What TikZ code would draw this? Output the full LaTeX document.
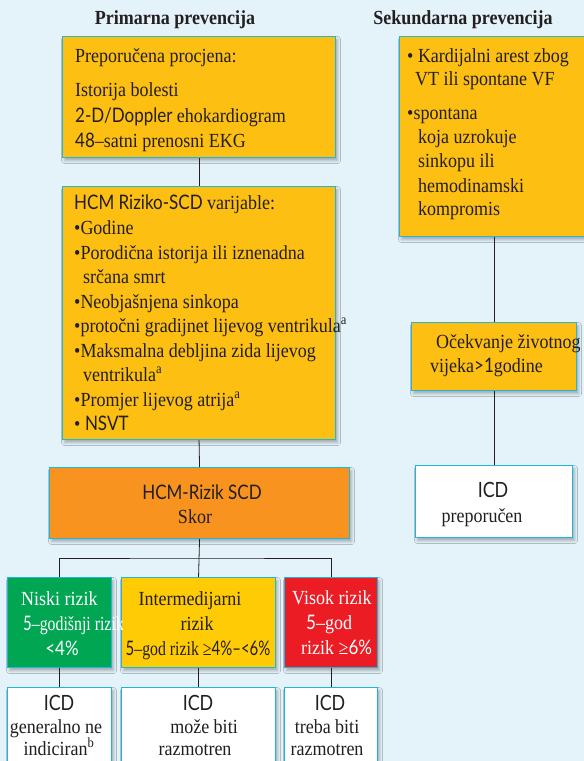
\documentclass[tikz,border=0pt]{standalone}
\usepackage{fontspec}
\setmainfont{Liberation Serif}[FakeStretch=0.9]
\setsansfont{Lato}[FakeStretch=0.85]
\usetikzlibrary{shadows.blur}
\definecolor{bg}{HTML}{E4F3FA}
\definecolor{amber}{HTML}{FCBF12}
\definecolor{orng}{HTML}{F7931E}
\definecolor{grn}{HTML}{00A651}
\definecolor{ylw}{HTML}{FFCB05}
\definecolor{rd}{HTML}{EC1C24}
\definecolor{rim}{HTML}{22B5DA}
\definecolor{ink}{HTML}{231F20}
\newcommand\sfx[1]{{\sffamily #1}}
\newcommand\narrow[1]{\scalebox{0.88}[1]{#1}}
\begin{document}
\begin{tikzpicture}[x=1pt,y=-1pt,
  box/.style={draw=rim, line width=1.1pt, inner sep=0pt, anchor=north west,
    blur shadow={shadow xshift=2pt, shadow yshift=-3pt, shadow blur radius=3pt, shadow opacity=30}},
  link/.style={draw=ink, line width=0.8pt},
  tl/.style={anchor=base west, inner sep=0pt, text=ink, font=\fontsize{20}{24}\selectfont},
  tc/.style={anchor=base, inner sep=0pt, text=ink, font=\fontsize{20}{24}\selectfont},
  ttl/.style={anchor=base, inner sep=0pt, text=ink, font=\fontsize{20}{24}\selectfont\bfseries},
  big/.style={font=\fontsize{21}{24}\selectfont\sffamily}]
\useasboundingbox (0,0) rectangle (584,761);
\fill[bg] (0,0) rectangle (584,761);

% column headings
\node[ttl] (h1) at (175,24) {Primarna prevencija};
\node[ttl] (h2) at (463,24) {Sekundarna prevencija};

% boxes of the primary-prevention column
\node[box, fill=amber, minimum width=273pt, minimum height=121pt] (b1) at (62,36) {};
\node[box, fill=amber, minimum width=273pt, minimum height=253pt] (b2) at (62,186) {};
\node[box, fill=orng, minimum width=300pt, minimum height=71pt] (b3) at (49,467) {};
\node[box, fill=grn, minimum width=104pt, minimum height=90pt] (lo) at (7,577) {};
\node[box, fill=ylw, minimum width=154pt, minimum height=90pt] (mid) at (121,577) {};
\node[box, fill=rd, minimum width=93pt, minimum height=90pt] (hi) at (284,577) {};
\node[box, fill=white, minimum width=104pt, minimum height=90pt] (w1) at (7,687) {};
\node[box, fill=white, minimum width=154pt, minimum height=90pt] (w2) at (121,687) {};
\node[box, fill=white, minimum width=93pt, minimum height=90pt] (w3) at (284,687) {};

% boxes of the secondary-prevention column
\node[box, fill=amber, minimum width=200pt, minimum height=200pt] (s1) at (399,36) {};
\node[box, fill=amber, minimum width=165pt, minimum height=68pt] (s2) at (411,322) {};
\node[box, fill=white, minimum width=157pt, minimum height=72pt] (s3) at (415,465) {};

% connectors
\coordinate (split) at (198.5,558);
\draw[link] (b1.south) -- (b2.north);
\draw[link] (b2.south) -- (b3.north);
\draw[link] (b3.south) -- (mid.north);
\draw[link] (lo.north) |- (split) -| (hi.north);
\draw[link] (lo.south) -- (w1.north);
\draw[link] (mid.south) -- (w2.north);
\draw[link] (hi.south) -- (w3.north);
\draw[link] (s2.north |- s1.south) -- (s2.north);
\draw[link] (s2.south) -- (s3.north);

% assessment
\node[tl] (a1) at (75,62) {Preporučena procjena:};
\node[tl] (a2) at (75,96) {Istorija bolesti};
\node[tl] (a3) at (75,122) {\sfx{2-D/Doppler} ehokardiogram};
\node[tl] (a4) at (75,147) {\sfx{48}–satni prenosni EKG};

% risk variables
\node[tl] (v0) at (74,209) {\sfx{HCM Riziko-SCD} varijable:};
\node[tl] (v1) at (74,234) {•Godine};
\node[tl] (v2) at (74,259) {•Porodična istorija ili iznenadna};
\node[tl] (v2b) at (83,283) {srčana smrt};
\node[tl] (v3) at (74,308) {•Neobjašnjena sinkopa};
\node[tl] (v4) at (74,332) {•protočni gradijnet lijevog ventrikula\textsuperscript{a}};
\node[tl] (v5) at (74,357) {•Maksmalna debljina zida lijevog};
\node[tl] (v5b) at (83,381) {ventrikula\textsuperscript{a}};
\node[tl] (v6) at (74,406) {•Promjer lijevog atrija\textsuperscript{a}};
\node[tl] (v7) at (74,430) {• \sfx{NSVT}};

% score
\node[tc] (sc1) at (202,499) {\sfx{HCM-Rizik SCD}};
\node[tc] (sc2) at (195,523) {Skor};

% risk classes
\node[tl, text=white] (l1) at (21,605) {Niski rizik};
\node[tl, text=white] (l2) at (23,630) {\narrow{\sfx{5}–godišnji rizik}};
\node[tc, text=white] (l3) at (62,655) {\sfx{<4\%}};
\node[tc] (m1) at (190,605) {Intermedijarni};
\node[tc] (m2) at (197,630) {rizik};
\node[tc] (m3) at (198,655) {\narrow{\sfx{5}–god rizik ≥\sfx{4\%–<6\%}}};
\node[tl, text=white] (r1) at (292,604) {Visok rizik};
\node[tl, text=white] (r2) at (306,629) {\sfx{5}–god};
\node[tl, text=white] (r3) at (301,654) {rizik ≥\sfx{6\%}};

% recommendations
\node[tc, big] (i1) at (59,710) {ICD};
\node[tc] (i1b) at (56,733) {generalno ne};
\node[tc] (i1c) at (59,755) {indiciran\textsuperscript{b}};
\node[tc, big] (i2) at (198,710) {ICD};
\node[tc] (i2b) at (204,733) {može biti};
\node[tc] (i2c) at (195,755) {razmotren};
\node[tc, big] (i3) at (330,710) {ICD};
\node[tc] (i3b) at (327,733) {treba biti};
\node[tc] (i3c) at (327,755) {razmotren};

% secondary prevention texts
\node[tl] (k1) at (407,62) {• Kardijalni arest zbog};
\node[tl] (k1b) at (415,85) {VT ili spontane VF};
\node[tl] (k2) at (407,119) {•spontana};
\node[tl] (k2b) at (418,143) {koja uzrokuje};
\node[tl] (k2c) at (418,167) {sinkopu ili};
\node[tl] (k2d) at (418,192) {hemodinamski};
\node[tl] (k2e) at (418,215) {kompromis};
\node[tl] (e1) at (436,348) {Očekvanje životnog};
\node[tl] (e2) at (430,372) {vijeka\sfx{>1}godine};
\node[tc, big] (p1) at (493,497) {ICD};
\node[tc] (p2) at (482,522) {preporučen};
\end{tikzpicture}
\end{document}
